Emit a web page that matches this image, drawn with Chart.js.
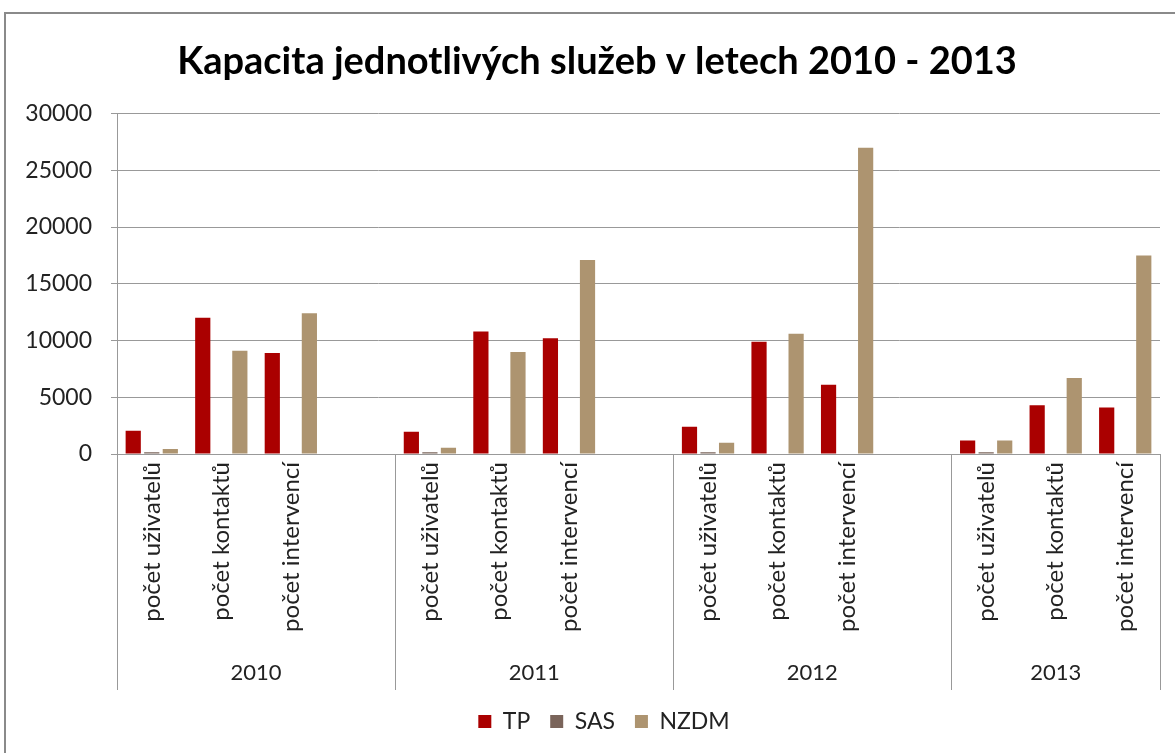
<!DOCTYPE html>
<html>
<head>
<meta charset="utf-8">
<script src="https://cdn.jsdelivr.net/npm/chart.js@4/dist/chart.umd.min.js"></script>
<style>
  html, body { margin: 0; padding: 0; background: #fff; }
  #wrap { width: 1175px; height: 753px; }
</style>
</head>
<body>
<div id="wrap"><canvas id="capChart" width="1175" height="753"></canvas></div>
<script>
const years = ["2010", "2011", "2012", "2013"];
const measures = ["počet uživatelů", "počet kontaktů", "počet intervencí"];
const seriesNames = ["TP", "SAS", "NZDM"];
const seriesColors = ["#AA0000", "#7A645A", "#AD9470"];

// one empty slot after each year except the last (spacer like in the original)
const tpValues   = [2050, 12000, 8900, null, 1950, 10800, 10200, null, 2400, 9900, 6100, null, 1200, 4300, 4100];
const sasValues  = [150, 0, 0, null, 150, 0, 0, null, 150, 0, 0, null, 150, 0, 0];
const nzdmValues = [450, 9100, 12400, null, 550, 9000, 17100, null, 1000, 10600, 27000, null, 1200, 6700, 17500];

const yTicks = [0, 5000, 10000, 15000, 20000, 25000, 30000];

const FONT = "Lato, 'Open Sans', sans-serif";

// build category labels
const labels = [];
years.forEach((y, i) => {
  measures.forEach(m => labels.push(m));
  if (i < years.length - 1) labels.push("");
});

// frame, year labels and group separators
const groupPlugin = {
  id: "groups",
  afterLayout(chart) {
    // the original frame runs past the right edge, so title and legend sit a bit right of centre
    chart.titleBlock.left += 34;
    chart.legend.left += 48;
  },
  beforeDraw(chart) {
    const ctx = chart.ctx;
    ctx.save();
    ctx.fillStyle = "#fff";
    ctx.fillRect(0, 0, chart.width, chart.height);
    ctx.strokeStyle = "#8a8a8a";
    ctx.lineWidth = 2;
    ctx.strokeRect(5, 13, chart.width + 20, chart.height + 20);
    ctx.restore();
  },
  afterDraw(chart) {
    const ctx = chart.ctx;
    const x = chart.scales.x;
    const half = (x.getPixelForValue(1) - x.getPixelForValue(0)) / 2;
    const top = chart.chartArea.bottom;
    const bottom = top + 236;
    ctx.save();
    ctx.strokeStyle = "#999";
    ctx.lineWidth = 1;
    ctx.fillStyle = "#222";
    ctx.font = "22px " + FONT;
    ctx.textAlign = "center";
    ctx.textBaseline = "middle";
    let start = 0;
    years.forEach((y, i) => {
      const count = i < years.length - 1 ? measures.length + 1 : measures.length;
      const left = x.getPixelForValue(start) - half;
      const right = x.getPixelForValue(start + count - 1) + half;
      ctx.beginPath();
      ctx.moveTo(Math.round(left) + 0.5, top);
      ctx.lineTo(Math.round(left) + 0.5, bottom);
      if (i === years.length - 1) {
        ctx.moveTo(Math.round(right) + 0.5, top);
        ctx.lineTo(Math.round(right) + 0.5, bottom);
      }
      ctx.stroke();
      ctx.fillText(y, (left + right) / 2, top + 219);
      start += count;
    });
    ctx.restore();
  }
};

new Chart(document.getElementById("capChart"), {
  type: "bar",
  data: {
    labels,
    datasets: [
      { label: seriesNames[0], data: tpValues, backgroundColor: seriesColors[0] },
      { label: seriesNames[1], data: sasValues, backgroundColor: seriesColors[1] },
      { label: seriesNames[2], data: nzdmValues, backgroundColor: seriesColors[2] }
    ]
  },
  options: {
    responsive: false,
    animation: false,
    categoryPercentage: 0.8,
    barPercentage: 0.82,
    layout: { padding: { left: 0, right: 15, top: 0, bottom: 10 } },
    plugins: {
      title: {
        display: true,
        text: "Kapacita jednotlivých služeb v letech 2010 - 2013",
        color: "#000",
        font: { family: FONT, size: 38, weight: "bold" },
        padding: { top: 39, bottom: 29 }
      },
      legend: {
        position: "bottom",
        labels: {
          color: "#222",
          font: { family: FONT, size: 23 },
          boxWidth: 13,
          boxHeight: 13,
          padding: 20
        }
      },
      tooltip: { enabled: false }
    },
    scales: {
      x: {
        grid: { display: false, drawTicks: false },
        border: { display: true, color: "#999" },
        ticks: {
          color: "#222",
          font: { family: FONT, size: 24 },
          minRotation: 90,
          maxRotation: 90,
          autoSkip: false,
          padding: 8
        },
        afterFit(scale) { scale.height = 236; }
      },
      y: {
        min: 0,
        max: 30000,
        afterBuildTicks(scale) { scale.ticks = yTicks.map(v => ({ value: v })); },
        grid: { color: "#999", tickLength: 6 },
        border: { display: true, color: "#999" },
        ticks: {
          color: "#222",
          font: { family: FONT, size: 23 },
          padding: 19,
          callback: v => String(v)
        },
        afterFit(scale) { scale.width = 117; }
      }
    }
  },
  plugins: [groupPlugin]
});
</script>
</body>
</html>
